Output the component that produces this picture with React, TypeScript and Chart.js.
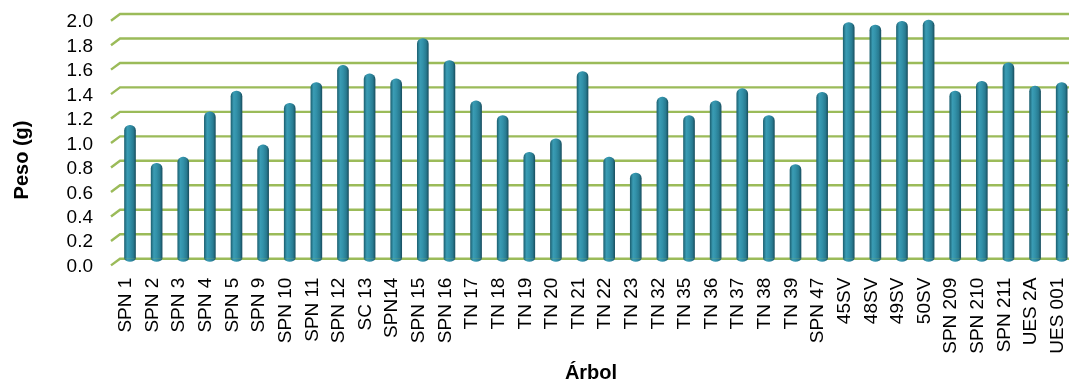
import { useEffect, useRef } from "react";
import { Chart, registerables } from "chart.js";

Chart.register(...registerables);

const categories = [
  "SPN 1", "SPN 2", "SPN 3", "SPN 4", "SPN 5", "SPN 9", "SPN 10", "SPN 11", "SPN 12",
  "SC 13", "SPN14", "SPN 15", "SPN 16", "TN 17", "TN 18", "TN 19", "TN 20", "TN 21",
  "TN 22", "TN 23", "TN 32", "TN 35", "TN 36", "TN 37", "TN 38", "TN 39", "SPN 47",
  "45SV", "48SV", "49SV", "50SV", "SPN 209", "SPN 210", "SPN 211", "UES 2A", "UES 001",
];

const pesos = [
  1.09, 0.78, 0.83, 1.2, 1.37, 0.93, 1.27, 1.44, 1.58,
  1.51, 1.47, 1.8, 1.62, 1.29, 1.17, 0.87, 0.98, 1.53,
  0.83, 0.7, 1.32, 1.17, 1.29, 1.39, 1.17, 0.77, 1.36,
  1.93, 1.91, 1.94, 1.95, 1.37, 1.45, 1.6, 1.41, 1.44,
];

const yTicks = [0, 0.2, 0.4, 0.6, 0.8, 1.0, 1.2, 1.4, 1.6, 1.8, 2.0];

const yTitle = "Peso (g)";
const xTitle = "Árbol";

const FONT = "'Liberation Sans', Arial, Helvetica, sans-serif";
const GRID = "#9bbb59";
const BAR_W = 11;
const BAR_FLAT = "#2f8aa2";

// horizontal gradient that gives each column a cylindrical look
function cylinder(ctx: CanvasRenderingContext2D, cx: number, w: number) {
  const g = ctx.createLinearGradient(cx - w / 2, 0, cx + w / 2, 0);
  g.addColorStop(0, "#1e6475");
  g.addColorStop(0.25, "#3a9cb4");
  g.addColorStop(0.5, "#3291a9");
  g.addColorStop(0.8, "#287b91");
  g.addColorStop(1, "#1a5263");
  return g;
}

const wallGrid = {
  id: "wallGrid",
  beforeDatasetsDraw(chart: any) {
    const { ctx, chartArea, scales } = chart;
    const backLeft = chartArea.left + 3.3;
    const frontLeft = chartArea.left - 5.7;
    const depthY = 6.7;
    ctx.save();
    ctx.strokeStyle = GRID;
    ctx.lineWidth = 2.4;
    yTicks.forEach((v) => {
      const y = scales.y.getPixelForValue(v);
      ctx.beginPath();
      ctx.moveTo(frontLeft, y + depthY);
      ctx.lineTo(backLeft, y);
      ctx.lineTo(chart.width, y);
      ctx.stroke();
    });
    ctx.restore();
  },
  afterDatasetsDraw(chart: any) {
    const { ctx } = chart;
    const meta = chart.getDatasetMeta(0);
    ctx.save();
    meta.data.forEach((bar: any) => {
      const { x, width, base } = bar.getProps(["x", "width", "base"], true);
      if (!isFinite(x) || !isFinite(base)) return;
      ctx.fillStyle = cylinder(ctx, x, width);
      ctx.beginPath();
      ctx.ellipse(x, base, width / 2, 3, 0, 0, Math.PI);
      ctx.fill();
    });
    ctx.restore();
  },
  afterDraw(chart: any) {
    const { ctx } = chart;
    ctx.save();
    ctx.fillStyle = "#000";
    ctx.font = `bold 20px ${FONT}`;
    ctx.textAlign = "center";
    ctx.textBaseline = "middle";
    ctx.fillText(xTitle, 591, 373);
    ctx.translate(22, 160);
    ctx.rotate(-Math.PI / 2);
    ctx.fillText(yTitle, 0, 0);
    ctx.restore();
  },
};

export default function App() {
  const ref = useRef<HTMLCanvasElement | null>(null);

  useEffect(() => {
    if (!ref.current) return;
    const chart = new Chart(ref.current, {
      type: "bar",
      data: {
        labels: categories,
        datasets: [
          {
            data: pesos,
            backgroundColor: (c: any) => {
              const xs = c.chart.scales.x;
              if (!xs || c.dataIndex === undefined) return BAR_FLAT;
              const px = xs.getPixelForValue(c.dataIndex);
              if (!isFinite(px)) return BAR_FLAT;
              return cylinder(c.chart.ctx, px, BAR_W);
            },
            barThickness: BAR_W,
            borderRadius: { topLeft: 5.5, topRight: 5.5, bottomLeft: 0, bottomRight: 0 },
            borderSkipped: false,
          },
        ],
      },
      options: {
        responsive: false,
        animation: false,
        devicePixelRatio: 1,
        layout: { padding: { top: 14, right: 10, left: 0, bottom: 0 } },
        plugins: {
          legend: { display: false },
          tooltip: { enabled: false },
        },
        scales: {
          x: {
            grid: { display: false, drawTicks: false },
            border: { display: false },
            ticks: {
              autoSkip: false,
              minRotation: 90,
              maxRotation: 90,
              padding: 19,
              labelOffset: -4,
              color: "#000",
              font: { family: FONT, size: 19 },
            },
            afterFit: (s: any) => {
              s.height = 123.3;
              s.paddingLeft = 0;
              s.paddingRight = 0;
            },
          },
          y: {
            min: 0,
            max: 2,
            grid: { display: false, drawTicks: false },
            border: { display: false },
            ticks: {
              autoSkip: false,
              stepSize: 0.2,
              padding: 23.7,
              labelOffset: 8,
              color: "#000",
              font: { family: FONT, size: 19 },
              callback: (v: any) => Number(v).toFixed(1),
            },
            afterFit: (s: any) => {
              s.width = 116.7;
              s.paddingTop = 0;
              s.paddingBottom = 0;
            },
          },
        },
      },
      plugins: [wallGrid],
    });
    return () => chart.destroy();
  }, []);

  return (
    <div
      style={{
        position: "absolute",
        left: 0,
        top: 0,
        width: 1069,
        height: 382,
        overflow: "hidden",
        background: "#fff",
      }}
    >
      <canvas ref={ref} width={1085} height={382} style={{ display: "block" }} />
    </div>
  );
}
